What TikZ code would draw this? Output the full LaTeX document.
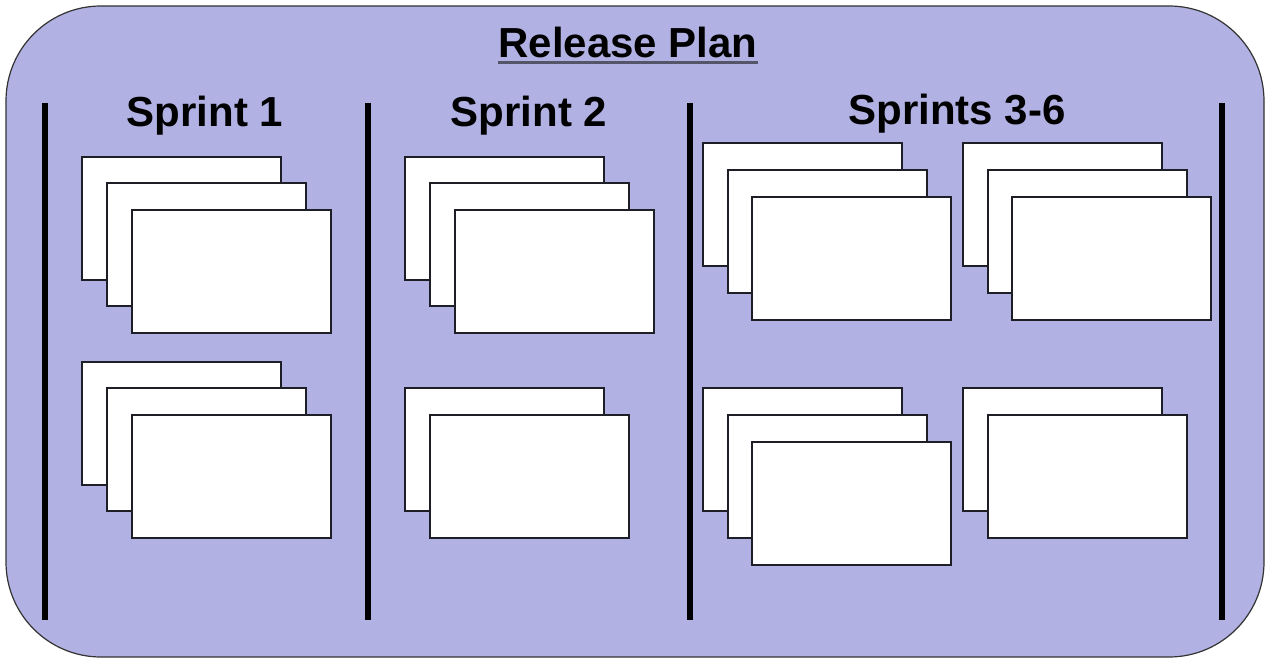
\documentclass[tikz,border=0pt]{standalone}
\usepackage{fontspec}
\setmainfont{Liberation Sans}
\definecolor{planfill}{HTML}{B1B1E3}
\definecolor{cardline}{HTML}{1E1E26}
\definecolor{ruleline}{HTML}{55556A}
\begin{document}
\begin{tikzpicture}[x=1pt,y=-1pt,
  plan/.style={draw=black!80, line width=1.2pt, fill=planfill, rounded corners=95pt},
  divider/.style={line width=5.5pt, black},
  heading/.style={font=\fontsize{42}{48}\selectfont\bfseries, inner sep=0pt, anchor=base},
  card/.style={draw=cardline, fill=white, line width=1.6pt, anchor=north west,
    minimum width=199pt, minimum height=123pt, inner sep=0pt, outer sep=0pt}]
\useasboundingbox (0,0) rectangle (1267,660);
\fill[white] (0,0) rectangle (1267,660);
\draw[plan] (6,6) rectangle (1264,657);

% title
\node[heading] (title) at (628,58) {Release Plan};
\draw[line width=3pt, ruleline] (title.base west) ++(0,5) coordinate (ulA) -- (ulA -| title.base east);

% column dividers
\coordinate (d1t) at (45,103);  \coordinate (d1b) at (45,620);
\coordinate (d2t) at (368,103); \coordinate (d2b) at (368,620);
\coordinate (d3t) at (690,103); \coordinate (d3b) at (690,620);
\coordinate (d4t) at (1222,103);\coordinate (d4b) at (1222,620);
\draw[divider] (d1t) -- (d1b);
\draw[divider] (d2t) -- (d2b);
\draw[divider] (d3t) -- (d3b);
\draw[divider] (d4t) -- (d4b);

% column headings
\node[heading] (s1) at (205,127) {Sprint 1};
\node[heading] (s2) at (529,127) {Sprint 2};
\node[heading] (s3) at (957,125) {Sprints 3-6};

% Sprint 1
\node[card] (a1) at (82,157) {};
\node[card] (a2) at (107,183) {};
\node[card] (a3) at (132,210) {};
\node[card] (b1) at (82,362) {};
\node[card] (b2) at (107,388) {};
\node[card] (b3) at (132,415) {};

% Sprint 2
\node[card] (c1) at (405,157) {};
\node[card] (c2) at (430,183) {};
\node[card] (c3) at (455,210) {};
\node[card] (e1) at (405,388) {};
\node[card] (e2) at (430,415) {};

% Sprints 3-6
\node[card] (f1) at (703,143) {};
\node[card] (f2) at (728,170) {};
\node[card] (f3) at (752,197) {};
\node[card] (g1) at (963,143) {};
\node[card] (g2) at (988,170) {};
\node[card] (g3) at (1012,197) {};
\node[card] (h1) at (703,388) {};
\node[card] (h2) at (728,415) {};
\node[card] (h3) at (752,442) {};
\node[card] (k1) at (963,388) {};
\node[card] (k2) at (988,415) {};
\end{tikzpicture}
\end{document}
